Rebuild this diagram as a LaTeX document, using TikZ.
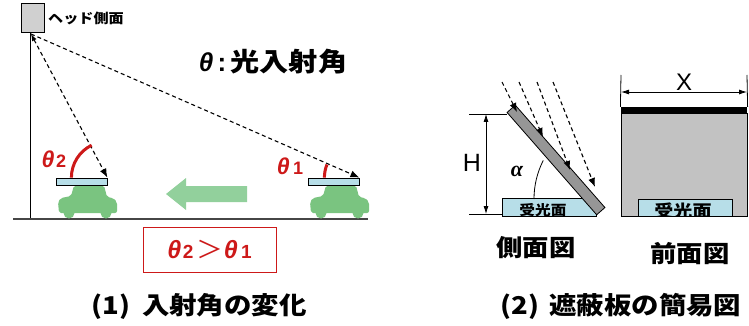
\documentclass[tikz,border=0pt]{standalone}
\usepackage{fontspec}
\setmainfont{Liberation Sans}
\newfontfamily\jp{Noto Sans CJK JP}[FakeStretch=1.12]
\newfontfamily\greekserif{Liberation Serif}
\usetikzlibrary{arrows.meta,calc}

\definecolor{plateblue}{RGB}{183,222,232}
\definecolor{cargreen}{RGB}{122,196,128}
\definecolor{arrowgreen}{RGB}{146,208,156}
\definecolor{angred}{RGB}{205,25,25}
\definecolor{headgray}{RGB}{208,208,208}
\definecolor{bargray}{RGB}{150,150,150}
\definecolor{frontgray}{RGB}{194,194,194}
\definecolor{groundgray}{RGB}{70,70,70}

\newcommand{\fsz}[1]{\fontsize{#1}{#1}\selectfont}

\tikzset{
  ray/.style={line width=1.1pt, dash pattern=on 4pt off 3pt,
              -{Latex[length=9pt,width=7pt]}},
  plate/.style={draw, fill=plateblue, line width=0.8pt, inner sep=0pt},
  redarc/.style={angred, line width=3pt},
  dimline/.style={line width=0.8pt,
              {Latex[length=8pt,width=5pt]}-{Latex[length=8pt,width=5pt]}},
  extline/.style={line width=0.8pt},
  jpbold/.style={font=\jp\bfseries\fsz{#1}},
  car/.pic={
    \fill[cargreen, rounded corners=2pt]
      (18,0.5) -- (48,0.5) -- (51,12) -- (57,13) -- (61,17) -- (61,28)
      -- (3,28) -- (2,17) -- (5,13) -- (15,11) -- cycle;
    \fill[cargreen] (13,28) circle (5.5);
    \fill[cargreen] (50,28) circle (5.5);
  }
}

\begin{document}
\begin{tikzpicture}[x=1pt,y=-1pt]
\useasboundingbox (0,0) rectangle (749,326);
\fill[white] (0,0) rectangle (749,326);

% ---------- (1) incidence angle ----------
% lamp head on its pole, and the ground
\node[draw, fill=headgray, line width=0.8pt, inner sep=0pt,
      minimum width=23, minimum height=29] (head) at (32.5,17.5) {};
\node[jpbold=13.5, anchor=west, inner sep=0pt] (headlbl) at (48,18) {ヘッド側面};
\coordinate (poletop) at (30,32);
\coordinate (polebot) at (30,219);
\coordinate (gl) at (13,219);
\coordinate (gr) at (368,219);
\draw[line width=1pt] (poletop) -- (polebot);
\draw[groundgray, line width=1.4pt] (gl) -- (gr);

\node[font=\bfseries\fsz{26}, inner sep=0pt] (legend) at (273,62)
  {\itshape θ\upshape\,:\,{\jp 光入射角}};

% receiving plates on the two cars
\pic at (56,185) {car};
\pic at (308,185) {car};
\node[plate, minimum width=51, minimum height=7] (p2) at (81.5,181.5) {};
\node[plate, minimum width=51, minimum height=7] (p1) at (333.5,181.5) {};

% light rays from the head
\coordinate (src) at (31,34);
\draw[ray, {Latex[length=7pt,width=5pt]}-{Latex[length=9pt,width=7pt]}] (src) -- (p2.north east);
\draw[ray] (src) -- (p1.north east);

% incidence angles
\draw[redarc] (p2.north east) ++(-36,0) arc[start angle=180, end angle=244, radius=36];
\draw[redarc] (p1.north east) ++(-35,0) arc[start angle=180, end angle=202, radius=35];
\node[text=angred, inner sep=0pt, font=\bfseries] (t2) at (54,159)
  {{\fsz{23}\itshape θ}\,{\fsz{18}2}};
\node[text=angred, inner sep=0pt, font=\bfseries] (t1) at (290,166)
  {{\fsz{23}\itshape θ}\,\,{\fsz{18}1}};

% direction of travel
\fill[arrowgreen] (166,194) -- (186,178) -- (186,186) -- (247,186)
  -- (247,202) -- (186,202) -- (186,210) -- cycle;

% comparison box
\node[draw=angred, line width=1pt, text=angred, inner sep=0pt,
      minimum width=133, minimum height=45, font=\bfseries] (cmp) at (209.5,249.5)
  {{\fsz{25}\itshape θ}\,{\fsz{19}2}\,\,{\jp\mdseries\fsz{24}＞}{\fsz{25}\itshape θ}\,\,{\fsz{19}1}};

\node[jpbold=24.5, inner sep=0pt] (title1) at (199,306) {(1)\hspace{12pt}入射角の変化};

% ---------- (2) shading plate ----------
% side view
\node[plate, minimum width=94, minimum height=18] (rcvS) at (549,207) {};
\begin{scope}
  \clip (rcvS.south west) rectangle (rcvS.north east);
  \node[jpbold=14, anchor=north, inner sep=0pt] (rcvSt) at (543,203) {受光面};
\end{scope}

\coordinate (s1) at (502,82);  \coordinate (e1) at (517,112);
\coordinate (s2) at (519,82);  \coordinate (e2) at (543,137);
\coordinate (s3) at (537,82);  \coordinate (e3) at (570,170);
\coordinate (s4) at (553,82);  \coordinate (e4) at (595,187);

\node[draw, fill=bargray, line width=0.8pt, inner sep=0pt,
      minimum width=136, minimum height=11, rotate=-48.8] (shade) at (556,160) {};

\draw[ray] (s1) -- (e1);
\draw[ray] (s2) -- (e2);
\draw[ray] (s3) -- (e3);
\draw[ray] (s4) -- (e4);

% height H
\coordinate (hTopL) at (469,114);  \coordinate (hTopR) at (507,114);
\coordinate (hBotL) at (469,214);  \coordinate (hBotR) at (502,214);
\coordinate (hA) at (486,114);     \coordinate (hB) at (486,214);
\draw[extline] (hTopL) -- (hTopR);
\draw[extline] (hBotL) -- (hBotR);
\draw[dimline] (hA) -- (hB);
\node[font=\fsz{25}, inner sep=0pt] (hlbl) at (472,163) {H};

% tilt angle alpha
\coordinate (aStart) at (534,199);
\draw[line width=0.8pt] (aStart) arc[start angle=180, end angle=207, radius=85];
\node[font=\greekserif\bfseries\itshape\fsz{22}, inner sep=0pt] (alpha) at (517,171) {α};

% front view
\node[draw, fill=frontgray, line width=0.8pt, inner sep=0pt,
      minimum width=126, minimum height=103] (front) at (684,164.5) {};
\node[fill=black, inner sep=0pt, minimum width=126.8, minimum height=6] (topbar) at (684,110) {};
\node[plate, minimum width=94, minimum height=17] (rcvF) at (685,207.5) {};
\begin{scope}
  \clip (rcvF.south west) rectangle (rcvF.north east);
  \node[jpbold=17, anchor=north, inner sep=0pt] (rcvFt) at (683,202.5) {受光面};
\end{scope}

% width X
\coordinate (xL) at (621,75);  \coordinate (xR) at (747,75);
\coordinate (xA) at (621,92);  \coordinate (xB) at (747,92);
\draw[extline] (topbar.north west) -- (xL);
\draw[extline] (topbar.north east) -- (xR);
\draw[dimline] (xA) -- (xB);
\node[font=\fsz{24}, inner sep=0pt] (xlbl) at (684,82) {X};

\node[jpbold=23.5, inner sep=0pt] (sideT) at (536,248) {側面図};
\node[jpbold=23.5, inner sep=0pt] (frontT) at (690,254) {前面図};

\node[jpbold=24.5, inner sep=0pt] (title2) at (621,306) {(2)\hspace{10pt}遮蔽板の簡易図};
\end{tikzpicture}
\end{document}
